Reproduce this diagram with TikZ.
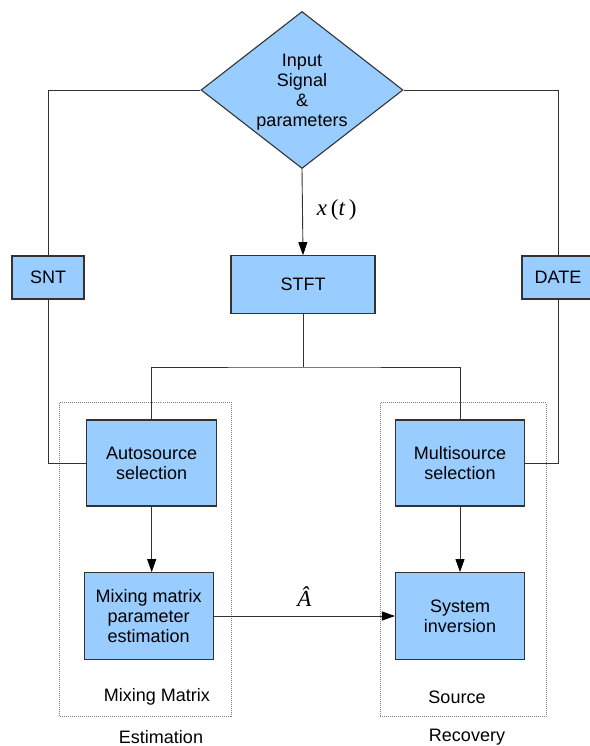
\documentclass[tikz,border=0pt]{standalone}
\usepackage{fontspec}
\setmainfont{Liberation Sans}
\newfontfamily\tms{Liberation Serif}
\usetikzlibrary{shapes.geometric,arrows.meta}
\definecolor{boxblue}{HTML}{99CCFF}
\definecolor{edge}{HTML}{333333}
\begin{document}
\begin{tikzpicture}[x=1pt,y=-1pt,
  font=\fontsize{18}{20.2}\selectfont,
  blk/.style={draw=edge,line width=1.1pt,fill=boxblue,inner sep=0pt,align=center},
  conn/.style={draw=edge,line width=0.9pt},
  arr/.style={conn,-{Triangle[length=13pt,width=9pt,color=black]}},
  grp/.style={draw=gray,line width=0.9pt,dash pattern=on 1pt off 1pt},
  lbl/.style={inner sep=0pt,align=center},
  mth/.style={inner sep=0pt,font=\tms\fontsize{23}{24}\selectfont\itshape}]
\useasboundingbox (0,0) rectangle (589,746);
% groups
\draw[grp] (59.5,402.5) rectangle (231.5,716.5);
\draw[grp] (380,402.5) rectangle (546,716.5);
% nodes
\node[blk,shape=diamond,minimum width=202pt,minimum height=157pt,aspect=1.29] (dia) at (302,90) {};
\node[lbl] (diat) at (302,92) {Input\\Signal\\\&\\parameters};
\node[blk,minimum width=72pt,minimum height=43pt] (snt) at (48,277.5) {SNT};
\node[blk,minimum width=144pt,minimum height=57.5pt] (stft) at (303,284.5) {STFT};
\node[blk,minimum width=72pt,minimum height=43pt] (date) at (558,277.5) {DATE};
\node[blk,minimum width=130pt,minimum height=86pt] (auto) at (151.7,463) {Autosource\\selection};
\node[blk,minimum width=129pt,minimum height=86.7pt] (mix) at (148.7,616) {Mixing matrix\\parameter\\estimation};
\node[blk,minimum width=129pt,minimum height=86pt] (multi) at (460,463) {Multisource\\selection};
\node[blk,minimum width=129pt,minimum height=86.7pt] (sys) at (460,616) {System\\inversion};
\coordinate (j) at (303,367);
% connectors
\draw[conn] (dia.west) -| (snt.north);
\draw[conn] (snt.south) |- (auto.west);
\draw[conn] (dia.east) -| (date.north);
\draw[conn] (date.south) |- (multi.east);
\draw[arr] (dia.south) -- node[mth,right=14pt,pos=0.48] (xt) {x\,\upshape(\itshape t\,\upshape)} (stft.north);
\draw[conn] (stft.south) -- (j);
\draw[conn] (auto.north) |- (j) -| (multi.north);
\draw[arr] (auto.south) -- (auto.south |- mix.north);
\draw[arr] (multi.south) -- (multi.south |- sys.north);
\draw[arr] (mix.east) -- node[mth,above=9pt,pos=0.5] (ah) {Â} (sys.west);
% labels
\node[lbl] (l1) at (157,697) {Mixing Matrix};
\node[lbl] (l2) at (161,737) {Estimation};
\node[lbl] (l3) at (457,697) {Source};
\node[lbl] (l4) at (467,737) {Recovery};
\end{tikzpicture}
\end{document}
